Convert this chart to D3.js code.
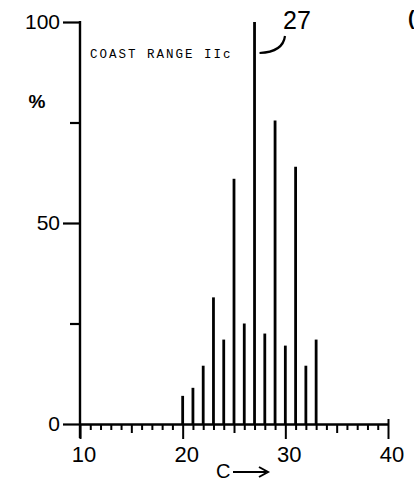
<!DOCTYPE html>
<html>
<head>
<meta charset="utf-8">
<script src="https://cdn.jsdelivr.net/npm/d3@7"></script>
<style>
  html, body { margin: 0; padding: 0; background: #fff; }
  svg { display: block; }
  .lbl { font-family: "Liberation Sans", "DejaVu Sans", sans-serif; fill: #000; }
</style>
</head>
<body>
<div id="chart"></div>
<script>
// carbon numbers and relative abundance (%)
var carbons = [20, 21, 22, 23, 24, 25, 26, 27, 28, 29, 30, 31, 32, 33];
var percents = [7, 9, 14.5, 31.5, 21, 61, 25, 100, 22.5, 75.5, 19.5, 64, 14.5, 21];
var xTicks = [10, 20, 30, 40];
var yTicks = [0, 25, 50, 75, 100];
var yLabels = ["0", "", "50", "", "100"];
var title = "COAST RANGE IIc";
var peakLabel = "27";

var width = 414, height = 484;

var svg = d3.select("#chart").append("svg")
    .attr("width", width)
    .attr("height", height);

var x = d3.scaleLinear().domain([10, 40]).range([80, 388]);
var y = d3.scaleLinear().domain([0, 100]).range([424, 22]);

// y axis line + ticks
var yAxis = d3.axisLeft(y)
    .tickValues(yTicks)
    .tickFormat(function(d, i) { return yLabels[i]; })
    .tickSizeOuter(0)
    .tickPadding(3);

var gy = svg.append("g")
    .attr("transform", "translate(" + x(10) + ",0)")
    .call(yAxis);
gy.select(".domain").attr("stroke-width", 2.4).attr("d", "M0," + (y(100) - 1) + "V" + (y(0) + 14));
gy.selectAll(".tick line")
    .attr("stroke-width", 2.2)
    .attr("x2", function(d) { return d % 50 === 0 ? -17 : -10; });
gy.selectAll(".tick text")
    .attr("x", -20)
    .attr("class", "lbl")
    .style("font-size", "21px");

// x axis line with minor ticks
var xAxis = d3.axisBottom(x)
    .tickValues(d3.range(10, 41))
    .tickFormat("")
    .tickSizeOuter(0);

var gx = svg.append("g")
    .attr("transform", "translate(0," + y(0) + ")")
    .call(xAxis);
gx.select(".domain").attr("stroke-width", 2.4);
gx.selectAll(".tick line")
    .attr("stroke-width", 2)
    .attr("y1", function(d) { return d === 40 ? -5 : 0; })
    .attr("y2", function(d) { return d % 10 === 0 ? 15 : (d % 5 === 0 ? 9 : 6); });

// x labels
svg.selectAll("text.xl")
    .data(xTicks)
    .enter().append("text")
    .attr("class", "lbl xl")
    .attr("x", function(d) { return x(d) + 4; })
    .attr("y", 462)
    .attr("text-anchor", "middle")
    .style("font-size", "22px")
    .text(function(d) { return d; });

// bars (stick spectrum)
svg.selectAll("line.bar")
    .data(carbons)
    .enter().append("line")
    .attr("class", "bar")
    .attr("x1", function(d) { return x(d); })
    .attr("x2", function(d) { return x(d); })
    .attr("y1", y(0))
    .attr("y2", function(d, i) { return y(percents[i]); })
    .attr("stroke", "#000")
    .attr("stroke-width", 2.8);

// axis titles
svg.append("text")
    .attr("class", "lbl")
    .attr("x", 37).attr("y", 108)
    .attr("text-anchor", "middle")
    .style("font-size", "19px")
    .style("font-weight", "bold")
    .text("%");

svg.append("text")
    .attr("class", "lbl")
    .attr("x", 216).attr("y", 478)
    .style("font-size", "20px")
    .text("C");

svg.append("line")
    .attr("x1", 233).attr("x2", 266)
    .attr("y1", 472).attr("y2", 472)
    .attr("stroke", "#000").attr("stroke-width", 2);
svg.append("path")
    .attr("d", "M259,467 L268,472 L259,477")
    .attr("fill", "none").attr("stroke", "#000").attr("stroke-width", 2);

// sample title
svg.append("text")
    .attr("x", 90).attr("y", 58)
    .style("font-family", "'Liberation Mono', 'DejaVu Sans Mono', monospace")
    .style("font-size", "12.5px")
    .style("letter-spacing", "2px")
    .text(title);

// peak label with leader
var peakX = x(27);
svg.append("text")
    .attr("class", "lbl")
    .attr("x", 297).attr("y", 29)
    .attr("text-anchor", "middle")
    .style("font-size", "25px")
    .text(peakLabel);

svg.append("path")
    .attr("d", "M285,36 Q283,52 " + (peakX + 5) + ",53")
    .attr("fill", "none")
    .attr("stroke", "#000")
    .attr("stroke-width", 2.2);

// clipped glyph from the neighbouring panel
svg.append("text")
    .attr("class", "lbl")
    .attr("x", 408).attr("y", 25)
    .style("font-size", "20px")
    .style("font-weight", "bold")
    .text("(");
</script>
</body>
</html>
